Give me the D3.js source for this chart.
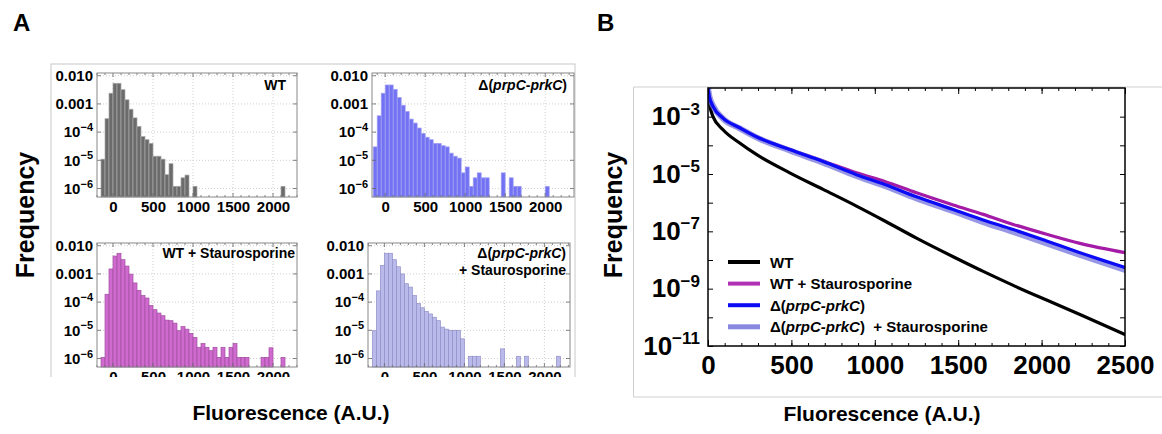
<!DOCTYPE html>
<html>
<head>
<meta charset="utf-8">
<script src="https://cdnjs.cloudflare.com/ajax/libs/d3/7.8.5/d3.min.js"></script>
<style>
body { margin: 0; background: #fff; }
svg text { font-family: "Liberation Sans", Arial, sans-serif; font-weight: bold; }
</style>
</head>
<body>
<div id="chart-area"></div>
<script>
// ---- panel A : histograms, left edge of each 50 A.U. bin ----
var bins = [-150,-100,-50,0,50,100,150,200,250,300,350,400,450,500,550,600,650,700,750,800,850,900,950,1000,
    1050,1100,1150,1200,1250,1300,1350,1400,1450,1500,1550,1600,1650,1700,1750,1800,1850,1900,1950,2000,2050,2100,2150];

var histWT = [1.1e-5,3e-4,2.4e-3,5.4e-3,5.4e-3,3.2e-3,1.4e-3,6.5e-4,3.2e-4,1.6e-4,7e-5,5.4e-5,4e-5,1.4e-5,1.4e-5,1.1e-5,
    3.1e-6,7.6e-6,1.2e-6,1.2e-6,2.4e-6,3e-6,0,1.2e-6,
    0,0,0,0,0,0,0,0,0,0,0,0,0,0,0,0,0,0,0,0,0,1.2e-6,0];

var histDelta = [3e-5,3.8e-4,2.4e-3,4.7e-3,4.7e-3,3.3e-3,1.7e-3,9e-4,5.4e-4,2.9e-4,2.1e-4,1.4e-4,9e-5,6.6e-5,5.4e-5,4e-5,
    4e-5,3.3e-5,3e-5,1.8e-5,1.4e-5,1.2e-5,3.6e-6,5.8e-6,
    1.2e-6,2.4e-6,3.6e-6,2.4e-6,2.4e-6,0,0,0,3.6e-6,0,2.4e-6,1.2e-6,1.2e-6,0,0,0,0,0,0,1.2e-6,0,0,0];

var histWTStauro = [1.1e-6,1.9e-4,1.5e-3,4.3e-3,5.4e-3,3.2e-3,1.9e-3,9.8e-4,4.8e-4,2.6e-4,1.7e-4,1.4e-4,7.6e-5,5.4e-5,4.1e-5,3.3e-5,
    2.3e-5,2.2e-5,1.8e-5,9.7e-6,1.35e-5,1.1e-5,7.8e-6,5.6e-6,
    2.5e-6,3.4e-6,2.5e-6,1.9e-6,2.5e-6,1.1e-6,2.5e-6,1.1e-6,2.5e-6,3.4e-6,1.1e-6,1.1e-6,1.1e-6,0,0,0,1.1e-6,1.1e-6,2.4e-6,0,0,1.1e-6,0];

var histDeltaStauro = [9.7e-6,2.5e-4,2e-3,5.4e-3,5.4e-3,3.2e-3,1.8e-3,1e-3,4.5e-4,3.4e-4,1.7e-4,9e-5,6.3e-5,4.7e-5,3.8e-5,2.9e-5,
    2.2e-5,1.3e-5,1.1e-5,1e-5,1e-5,1e-5,5e-6,0,
    1.2e-6,1.2e-6,1.2e-6,0,0,0,0,0,2.2e-6,0,0,0,1.2e-6,0,1.2e-6,0,0,0,0,0,0,0,1.2e-6];

var histYTicks = [1e-6, 1e-5, 1e-4, 1e-3, 1e-2];
var histXTicks = [0, 500, 1000, 1500, 2000];

// ---- panel B : fitted distributions ----
var fitX = [0, 8, 30, 90, 190, 290, 490, 690, 890, 1060, 1250, 1470, 1650, 1830, 2030, 2230, 2500];
var fitWT = [1e-2, 3.2e-3, 1.0e-3, 3.5e-4, 1.2e-4, 4.8e-5, 1.1e-5, 2.9e-6, 7.6e-7, 2.3e-7, 5.8e-8, 1.3e-8, 4.0e-9, 1.3e-9, 4.0e-10, 1.26e-10, 2.5e-11];
var fitWTStauro = [1e-2, 5e-3, 2.3e-3, 8.9e-4, 4.1e-4, 2.0e-4, 7.2e-5, 2.85e-5, 1.1e-5, 5.5e-6, 2.2e-6, 8.3e-7, 3.9e-7, 1.74e-7, 7.9e-8, 3.8e-8, 1.8e-8];
var fitDelta = [1e-2, 5e-3, 2.3e-3, 8.9e-4, 4.1e-4, 2.0e-4, 7.1e-5, 2.75e-5, 9.5e-6, 4.3e-6, 1.6e-6, 5.8e-7, 2.5e-7, 1.15e-7, 4.6e-8, 1.8e-8, 5.5e-9];
var fitDeltaStauro = [1e-2, 5.2e-3, 2.4e-3, 8.6e-4, 3.9e-4, 1.9e-4, 6.6e-5, 2.5e-5, 8.5e-6, 3.8e-6, 1.4e-6, 5.0e-7, 2.1e-7, 9.5e-8, 3.8e-8, 1.5e-8, 4.5e-9];
var fitXTicks = [0, 500, 1000, 1500, 2000, 2500];
var fitYTicks = [1e-11, 1e-10, 1e-9, 1e-8, 1e-7, 1e-6, 1e-5, 1e-4, 1e-3];

var svg = d3.select('#chart-area').append('svg')
    .attr('width', 1162)
    .attr('height', 434);

svg.append('text').attr('x', 13).attr('y', 31).attr('font-size', 24).text('A');
svg.append('text').attr('x', 597).attr('y', 31).attr('font-size', 24).text('B');

// panel A is cut off just under the lower histograms
svg.append('clipPath').attr('id', 'clipA')
    .append('rect').attr('x', 0).attr('y', 0).attr('width', 600).attr('height', 377);
var panelA = svg.append('g').attr('clip-path', 'url(#clipA)');

panelA.append('rect')
    .attr('x', 51).attr('y', 64).attr('width', 524).attr('height', 340)
    .attr('fill', 'none').attr('stroke', '#c8c8c8').attr('stroke-width', 1);

function powText(sel, v, big, small) {
    var e = Math.round(Math.log10(v));
    sel.text('');
    sel.append('tspan').attr('font-size', big).text('10');
    sel.append('tspan').attr('font-size', small).attr('dy', -big * 0.42).text('\u2212' + (-e));
}

function addLabel(g, lines, xRight, yTop) {
    lines.forEach(function(parts, i) {
        var t = g.append('text')
            .attr('x', xRight).attr('y', yTop + i * 17)
            .attr('text-anchor', 'end').attr('font-size', 14);
        parts.forEach(function(p) {
            t.append('tspan').attr('font-style', p[1] ? 'italic' : 'normal').text(p[0]);
        });
    });
}

var histPanels = [
    {vals: histWT, left: 97, top: 73, w: 200, dom: [-200, 2300], fill: '#6b6b6b', stroke: '#a9a9a9',
        label: [[['WT', 0]]], lx: 286, ly: 90},
    {vals: histDelta, left: 372, top: 73, w: 202, dom: [-165, 2360], fill: '#7272f2', stroke: '#a4a4f4',
        label: [[['\u0394(', 0], ['prpC-prkC', 1], [')', 0]]], lx: 567, ly: 90},
    {vals: histWTStauro, left: 97, top: 243, w: 200, dom: [-200, 2300], fill: '#cf6bcf', stroke: '#a24ea2',
        label: [[['WT + Staurosporine', 0]]], lx: 295, ly: 258},
    {vals: histDeltaStauro, left: 368, top: 243, w: 202, dom: [-205, 2320], fill: '#babaea', stroke: '#9090c8',
        label: [[['\u0394(', 0], ['prpC-prkC', 1], [')', 0]], [['+ Staurosporine', 0]]], lx: 566, ly: 258}
];
var histH = 124;

histPanels.forEach(function(p) {
    var g = panelA.append('g').attr('transform', 'translate(' + p.left + ',' + p.top + ')');
    var x = d3.scaleLinear().domain(p.dom).range([0, p.w]);
    var y = d3.scaleLog().domain([5e-7, 1.25e-2]).range([histH, 0]);

    // dotted grid
    g.selectAll('line.gx').data(histXTicks).enter().append('line')
        .attr('x1', d => x(d)).attr('x2', d => x(d)).attr('y1', 0).attr('y2', histH)
        .attr('stroke', '#cfcfcf').attr('stroke-dasharray', '1,2');
    g.selectAll('line.gy').data(histYTicks).enter().append('line')
        .attr('x1', 0).attr('x2', p.w).attr('y1', d => y(d)).attr('y2', d => y(d))
        .attr('stroke', '#cfcfcf').attr('stroke-dasharray', '1,2');

    var data = bins.map((b, i) => ({b: b, v: p.vals[i]})).filter(d => d.v > 0);
    g.selectAll('rect.bar').data(data).enter().append('rect')
        .attr('x', d => x(d.b))
        .attr('width', d => x(d.b + 50) - x(d.b))
        .attr('y', d => y(d.v))
        .attr('height', d => histH - y(d.v))
        .attr('fill', p.fill)
        .attr('stroke', p.stroke)
        .attr('stroke-width', 0.7);

    // inward ticks on all sides
    var minor = x.ticks(25);
    [[0, 1], [histH, -1]].forEach(function(s) {
        g.selectAll(null).data(minor).enter().append('line')
            .attr('x1', d => x(d)).attr('x2', d => x(d))
            .attr('y1', s[0]).attr('y2', d => s[0] + s[1] * (d % 500 == 0 ? 4 : 2))
            .attr('stroke', '#666').attr('stroke-width', 0.8);
    });
    [[0, 1], [p.w, -1]].forEach(function(s) {
        g.selectAll(null).data(histYTicks).enter().append('line')
            .attr('y1', d => y(d)).attr('y2', d => y(d))
            .attr('x1', s[0]).attr('x2', s[0] + s[1] * 4)
            .attr('stroke', '#666').attr('stroke-width', 0.8);
    });

    g.append('rect').attr('width', p.w).attr('height', histH)
        .attr('fill', 'none').attr('stroke', '#888').attr('stroke-width', 1);

    var yAx = g.append('g').call(d3.axisLeft(y).tickValues(histYTicks).tickSize(0).tickPadding(4));
    yAx.select('.domain').remove();
    yAx.attr('font-family', null).attr('font-size', 15);
    yAx.selectAll('text').each(function(d) {
        var t = d3.select(this);
        if (d >= 1e-3) t.text(d3.format('.3f')(d));
        else powText(t, d, 15, 11);
    });

    var xAx = g.append('g').attr('transform', 'translate(0,' + histH + ')')
        .call(d3.axisBottom(x).tickValues(histXTicks).tickSize(0).tickPadding(4).tickFormat(d3.format('d')));
    xAx.select('.domain').remove();
    xAx.attr('font-family', null).attr('font-size', 15);

    addLabel(panelA, p.label, p.lx, p.ly);
});

svg.append('text')
    .attr('transform', 'translate(34,215) rotate(-90)')
    .attr('text-anchor', 'middle').attr('font-size', 25).text('Frequency');
svg.append('text')
    .attr('x', 291).attr('y', 420)
    .attr('text-anchor', 'middle').attr('font-size', 21).text('Fluorescence (A.U.)');

// ---- panel B ----
var B = {left: 708, right: 1125, top: 88, bottom: 346};
svg.append('path')
    .attr('d', 'M' + 1162 + ',' + 87 + 'H' + 633.5 + 'V' + 397 + 'H' + 1162)
    .attr('fill', 'none').attr('stroke', '#cfcfcf');

var bx = d3.scaleLinear().domain([0, 2500]).range([B.left, B.right]);
var by = d3.scaleLog().domain([1e-11, 1e-2]).range([B.bottom, B.top]);

svg.append('clipPath').attr('id', 'clipB')
    .append('rect').attr('x', B.left).attr('y', B.top)
    .attr('width', B.right - B.left).attr('height', B.bottom - B.top);

var curves = svg.append('g').attr('clip-path', 'url(#clipB)');
var line = d3.line()
    .x((d, i) => bx(fitX[i]))
    .y(d => by(d))
    .curve(d3.curveMonotoneX);

var series = [
    {name: 'WT', vals: fitWT, color: '#000000', w: 3.2, op: 1},
    {name: 'WT + Staurosporine', vals: fitWTStauro, color: '#a31ba6', w: 3.2, op: 1},
    {name: 'dS', vals: fitDeltaStauro, color: '#7474dc', w: 6, op: 0.75},
    {name: 'd', vals: fitDelta, color: '#0b0bf5', w: 3.2, op: 1}
];
series.forEach(function(s) {
    curves.append('path').attr('d', line(s.vals))
        .attr('fill', 'none').attr('stroke', s.color)
        .attr('stroke-width', s.w).attr('stroke-opacity', s.op)
        .attr('stroke-linecap', 'round');
});

// axes with ticks inside the frame
var bxAx = svg.append('g').attr('transform', 'translate(0,' + B.bottom + ')')
    .call(d3.axisBottom(bx).tickValues(fitXTicks).tickSize(-6).tickPadding(10).tickFormat(d3.format('d')));
bxAx.select('.domain').remove();
bxAx.attr('font-family', null).attr('font-size', 26);
svg.append('g').attr('transform', 'translate(0,' + B.bottom + ')')
    .call(d3.axisBottom(bx).ticks(25).tickSize(-3).tickFormat(''))
    .select('.domain').remove();
svg.append('g').attr('transform', 'translate(0,' + B.top + ')')
    .call(d3.axisTop(bx).tickValues(fitXTicks).tickSize(-6).tickFormat(''))
    .select('.domain').remove();
svg.append('g').attr('transform', 'translate(0,' + B.top + ')')
    .call(d3.axisTop(bx).ticks(25).tickSize(-3).tickFormat(''))
    .select('.domain').remove();

var byAx = svg.append('g').attr('transform', 'translate(' + B.left + ',0)')
    .call(d3.axisLeft(by).tickValues(fitYTicks).tickSize(-5).tickPadding(8));
byAx.select('.domain').remove();
byAx.attr('font-family', null).attr('font-size', 26);
byAx.selectAll('text').each(function(d) {
    var e = Math.round(Math.log10(d));
    var t = d3.select(this);
    if (e % 2 == 0) t.text('');
    else powText(t, d, 26, 17);
});
svg.append('g').attr('transform', 'translate(' + B.right + ',0)')
    .call(d3.axisRight(by).tickValues(fitYTicks).tickSize(-5).tickFormat(''))
    .select('.domain').remove();

svg.append('rect')
    .attr('x', B.left).attr('y', B.top)
    .attr('width', B.right - B.left).attr('height', B.bottom - B.top)
    .attr('fill', 'none').attr('stroke', '#000').attr('stroke-width', 1.5);

// legend
var legend = [
    {color: '#000000', op: 1, w: 4, parts: [['WT', 0]]},
    {color: '#b032b3', op: 1, w: 4, parts: [['WT + Staurosporine', 0]]},
    {color: '#0b0bf5', op: 1, w: 4, parts: [['\u0394(', 0], ['prpC-prkC', 1], [')', 0]]},
    {color: '#7474dc', op: 0.85, w: 5, parts: [['\u0394(', 0], ['prpC-prkC', 1], [')  + Staurosporine', 0]]}
];
legend.forEach(function(l, i) {
    var yy = 262 + i * 21.6;
    svg.append('line').attr('x1', 728).attr('x2', 760).attr('y1', yy).attr('y2', yy)
        .attr('stroke', l.color).attr('stroke-width', l.w).attr('stroke-opacity', l.op);
    var t = svg.append('text').attr('x', 770).attr('y', yy + 5.5).attr('font-size', 15)
        .attr('xml:space', 'preserve');
    l.parts.forEach(function(p) {
        t.append('tspan').attr('font-style', p[1] ? 'italic' : 'normal').text(p[0]);
    });
});

svg.append('text')
    .attr('transform', 'translate(622,215) rotate(-90)')
    .attr('text-anchor', 'middle').attr('font-size', 25).text('Frequency');
svg.append('text')
    .attr('x', 882).attr('y', 421)
    .attr('text-anchor', 'middle').attr('font-size', 21).text('Fluorescence (A.U.)');
</script>
</body>
</html>
